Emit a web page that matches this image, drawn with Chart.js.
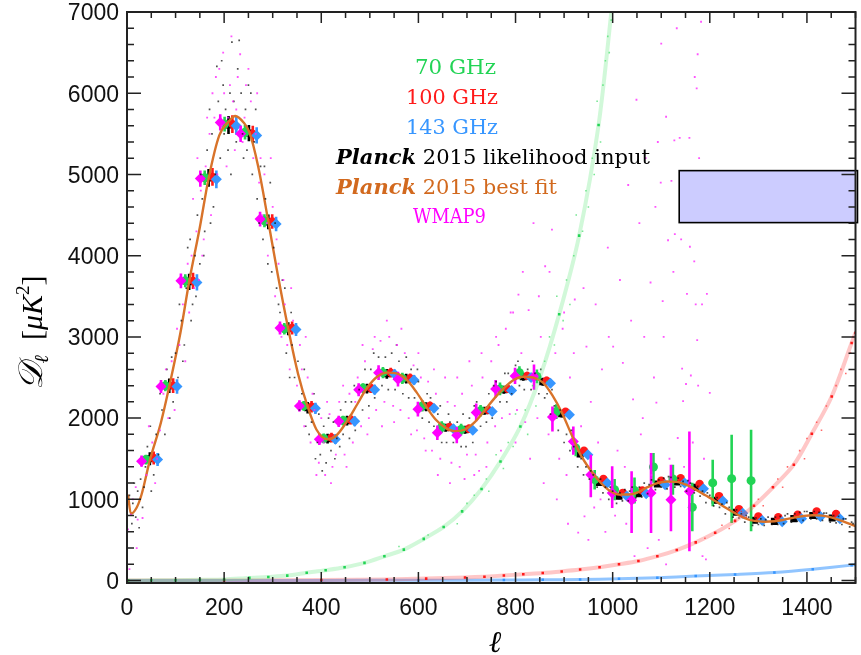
<!DOCTYPE html>
<html>
<head>
<meta charset="utf-8">
<script src="https://cdn.jsdelivr.net/npm/chart.js@4.4.1/dist/chart.umd.min.js"></script>
<style>
html, body { margin: 0; padding: 0; background: #fff; }
#wrap { width: 861px; height: 655px; }
</style>
</head>
<body>
<div id="wrap"><canvas id="spectrumChart" width="861" height="655"></canvas></div>
<script>
// axis ticks
const xTicks = [0, 200, 400, 600, 800, 1000, 1200, 1400];
const yTicks = [0, 1000, 2000, 3000, 4000, 5000, 6000, 7000];

// Planck 2015 best fit
const fitL = [2, 8, 20, 30, 47, 70, 87, 110, 128, 150, 168, 190, 209, 223, 240, 252, 270, 291, 310, 332, 352, 372, 390, 413, 430, 453, 475, 494, 515, 535, 555, 576, 596, 616, 636, 656, 676, 696, 716, 736, 756, 776, 796, 816, 836, 856, 876, 896, 915, 933, 953, 973, 993, 1013, 1033, 1053, 1072, 1092, 1112, 1132, 1151, 1171, 1191, 1211, 1232, 1252, 1272, 1292, 1312, 1333, 1353, 1373, 1393, 1412, 1432, 1452, 1472, 1500];
const fitD = [1058, 824, 900, 1060, 1480, 1950, 2390, 3050, 3680, 4350, 4950, 5480, 5650, 5720, 5640, 5520, 5100, 4420, 3780, 3100, 2550, 2140, 1860, 1740, 1780, 1960, 2180, 2370, 2510, 2560, 2550, 2470, 2320, 2140, 1980, 1880, 1840, 1860, 1950, 2090, 2240, 2370, 2470, 2510, 2500, 2440, 2280, 2060, 1800, 1560, 1370, 1220, 1110, 1060, 1060, 1090, 1150, 1200, 1220, 1215, 1180, 1120, 1050, 980, 900, 830, 770, 735, 725, 730, 750, 775, 795, 805, 800, 775, 735, 670];

// Planck 2015 likelihood input, binned
const planckL = [47, 87, 128, 168, 209, 251, 291, 332, 372, 413, 453, 494, 535, 575, 616, 656, 696, 736, 776, 816, 856, 895, 933, 973, 1013, 1053, 1092, 1132, 1171, 1211, 1252, 1292, 1333, 1373, 1412, 1452];
const planckD = [1500, 2398, 3678, 4957, 5609, 5510, 4416, 3100, 2128, 1747, 1968, 2362, 2546, 2485, 2140, 1882, 1857, 2091, 2349, 2509, 2448, 2054, 1559, 1209, 1037, 1070, 1189, 1214, 1148, 988, 840, 742, 729, 763, 800, 771];
const planckErr = [80, 90, 100, 110, 110, 100, 90, 80, 70, 60, 60, 60, 60, 60, 55, 50, 50, 50, 50, 50, 50, 45, 40, 40, 35, 35, 35, 35, 35, 35, 30, 30, 30, 30, 30, 30];

// 100 GHz and 143 GHz binned
const redL = [55, 95, 136, 176, 217, 259, 299, 340, 380, 421, 461, 502, 543, 583, 624, 664, 704, 744, 784, 824, 864, 903, 941, 981, 1021, 1061, 1100, 1140, 1179, 1219, 1260, 1300, 1341, 1381, 1420, 1460];
const redD = [1510, 2400, 3690, 4970, 5620, 5500, 4420, 3110, 2140, 1760, 1980, 2370, 2560, 2490, 2150, 1890, 1870, 2100, 2360, 2520, 2460, 2080, 1600, 1250, 1080, 1110, 1230, 1260, 1190, 1040, 880, 790, 780, 810, 850, 820];
const blueL = [63, 103, 144, 184, 225, 267, 307, 348, 388, 429, 469, 510, 551, 591, 632, 672, 712, 752, 792, 832, 872, 911, 949, 989, 1029, 1069, 1108, 1148, 1187, 1227, 1268, 1308, 1349, 1389, 1428, 1468];
const blueD = [1490, 2390, 3670, 4940, 5600, 5480, 4390, 3090, 2120, 1740, 1960, 2350, 2540, 2470, 2120, 1870, 1850, 2080, 2340, 2500, 2430, 2040, 1550, 1200, 1040, 1070, 1180, 1200, 1130, 980, 830, 740, 725, 760, 790, 760];

// 70 GHz binned
const greenL = [39, 79, 120, 160, 201, 243, 283, 324, 364, 405, 445, 486, 527, 567, 608, 648, 688, 728, 768, 808, 844, 884, 924, 963, 1004, 1045, 1084, 1124, 1164, 1206, 1245, 1285];
const greenD = [1490, 2400, 3690, 4960, 5620, 5520, 4430, 3100, 2150, 1750, 1970, 2370, 2560, 2490, 2150, 1890, 1860, 2090, 2360, 2560, 2513, 2082, 1632, 1242, 1119, 1110, 1398, 1251, 902, 1202, 1255, 1230];
const greenLo = [1430, 2330, 3610, 4870, 5530, 5430, 4350, 3030, 2090, 1690, 1910, 2310, 2490, 2420, 2080, 1820, 1790, 2020, 2280, 2480, 2430, 1990, 1530, 1120, 990, 950, 1205, 1058, 606, 914, 710, 606];
const greenHi = [1550, 2470, 3770, 5050, 5710, 5610, 4510, 3170, 2210, 1810, 2030, 2430, 2630, 2560, 2220, 1960, 1930, 2160, 2440, 2640, 2600, 2170, 1730, 1360, 1250, 1270, 1570, 1427, 1205, 1488, 1796, 1857];

// WMAP9 binned
const wmapL = [30, 70, 111, 151, 192, 234, 274, 315, 355, 396, 436, 477, 518, 558, 599, 639, 679, 719, 759, 799, 838, 876, 919, 955, 999, 1039, 1079, 1120, 1158];
const wmapD = [1470, 2390, 3690, 4950, 5640, 5500, 4450, 3110, 2150, 1740, 1960, 2350, 2560, 2480, 2110, 1820, 1790, 2070, 2360, 2520, 2510, 2013, 1713, 1304, 1078, 988, 1078, 996, 1098];
const wmapLo = [1400, 2310, 3600, 4850, 5540, 5400, 4360, 3030, 2080, 1670, 1890, 2270, 2470, 2390, 2020, 1730, 1690, 1960, 2250, 2420, 2350, 1836, 1550, 1025, 894, 587, 587, 606, 360];
const wmapHi = [1540, 2470, 3780, 5050, 5740, 5600, 4540, 3190, 2220, 1810, 2030, 2430, 2650, 2570, 2200, 1910, 1890, 2180, 2470, 2620, 2660, 2144, 1898, 1550, 1406, 1345, 1570, 1427, 1836];

// noise levels, binned
const greenNoiseL = [2, 50, 100, 150, 200, 252, 291, 330, 370, 409, 448, 489, 530, 570, 611, 652, 690, 730, 769, 810, 850, 890, 931, 971, 1000];
const greenNoiseD = [0, 3, 5, 9, 14, 33, 45, 61, 95, 127, 164, 218, 299, 381, 513, 660, 852, 1128, 1467, 1898, 2500, 3280, 4247, 5609, 7150];
const redNoiseL = [2, 200, 400, 535, 616, 696, 736, 776, 816, 856, 895, 933, 973, 1013, 1053, 1092, 1132, 1171, 1211, 1252, 1291, 1330, 1373, 1410, 1451, 1492, 1500];
const redNoiseD = [0, 2, 6, 14, 24, 38, 48, 62, 78, 92, 112, 135, 165, 200, 240, 300, 376, 470, 588, 735, 922, 1148, 1427, 1808, 2267, 2924, 3050];
const blueNoiseL = [2, 400, 600, 776, 856, 933, 1013, 1092, 1171, 1252, 1333, 1412, 1492, 1500];
const blueNoiseD = [0, 2, 4, 6, 9, 12, 22, 35, 55, 75, 100, 140, 190, 197];

// unbinned points [l, D]
const greenDots = [[560, 420], [620, 560], [680, 700], [700, 950], [715, 1050], [740, 1250], [745, 1100], [760, 1550], [775, 1380], [785, 1700], [795, 1650], [800, 2050], [820, 2100], [825, 1800], [835, 2400], [842, 2150], [860, 2700], [865, 2450], [870, 3000], [880, 2900], [885, 3500], [898, 3200], [905, 3700], [912, 3400], [920, 4000], [925, 4500], [938, 4300], [945, 4800], [950, 4600], [958, 5200], [962, 5000], [968, 5900], [975, 5400], [980, 6100], [985, 6400], [990, 6700], [993, 6500], [997, 6900]];
const redDots = [[1190, 520], [1225, 680], [1240, 640], [1265, 850], [1275, 780], [1300, 1000], [1310, 920], [1340, 1250], [1350, 1150], [1360, 1400], [1385, 1600], [1395, 1500], [1400, 1750], [1420, 1950], [1430, 1850], [1440, 2150], [1460, 2400], [1470, 2600], [1480, 2550], [1490, 2800], [1495, 3000]];
const blackDots = [[5, 1050], [10, 700], [12, 950], [18, 780], [22, 1100], [28, 1250], [32, 900], [38, 1400], [42, 1650], [55, 1300], [60, 1800], [65, 1550], [72, 2100], [78, 1800], [82, 2600], [95, 2200], [100, 2800], [105, 2500], [112, 3200], [118, 2900], [122, 3600], [125, 4100], [135, 3400], [140, 4000], [145, 4500], [150, 3900], [155, 4700], [160, 4300], [165, 5300], [175, 5500], [178, 4600], [185, 6330], [188, 5900], [192, 5200], [198, 6100], [203, 5800], [208, 5300], [216, 6630], [220, 5900], [225, 5400], [231, 6650], [235, 6000], [240, 5200], [244, 5800], [250, 6100], [258, 5000], [262, 5400], [268, 4700], [275, 5100], [280, 4200], [285, 4700], [298, 3800], [302, 4100], [308, 3600], [315, 3300], [320, 3700], [328, 2800], [340, 2900], [345, 2500], [352, 2700], [360, 2300], [368, 1900], [380, 1950], [385, 2300], [392, 1700], [398, 1550], [405, 1900], [410, 1450], [420, 1600], [425, 1950], [432, 1750], [440, 2100], [445, 1800], [462, 2200], [470, 1850], [478, 2350], [485, 2100], [502, 2600], [510, 2250], [518, 2750], [525, 2400], [545, 2800], [552, 2350], [560, 2700], [568, 2300], [585, 2600], [592, 2250], [600, 2450], [608, 2000], [625, 2250], [632, 1900], [640, 2050], [648, 1700], [665, 1950], [672, 1700], [680, 1950], [688, 1650], [705, 2000], [712, 1700], [720, 2200], [728, 1900], [745, 2300], [752, 2000], [760, 2450], [768, 2200], [785, 2550], [792, 2300], [800, 2650], [808, 2400], [825, 2600], [832, 2350], [840, 2550], [848, 2300], [865, 2300], [872, 2050], [880, 2150], [888, 1850], [905, 1800], [912, 1600], [920, 1650], [928, 1400], [945, 1400], [952, 1250], [960, 1300], [968, 1150], [985, 1150], [992, 1000], [1000, 1100], [1008, 950], [1025, 1120], [1032, 980], [1040, 1150], [1048, 1020], [1065, 1200], [1072, 1070], [1080, 1240], [1088, 1120], [1105, 1260], [1112, 1130], [1120, 1270], [1128, 1150], [1145, 1220], [1152, 1100], [1160, 1200], [1168, 1080], [1185, 1100], [1192, 960], [1200, 1050], [1208, 920], [1225, 940], [1232, 820], [1240, 900], [1248, 780], [1265, 820], [1272, 720], [1280, 780], [1288, 680], [1305, 760], [1312, 680], [1320, 780], [1328, 690], [1345, 790], [1352, 700], [1360, 820], [1368, 720], [1385, 840], [1392, 740], [1400, 850], [1408, 760], [1425, 840], [1432, 740], [1440, 830], [1448, 720], [1465, 790], [1472, 690], [1480, 760], [1488, 660], [1495, 700],
    [15, 1200], [25, 650], [35, 1150], [48, 1900], [50, 1100], [68, 2300], [88, 2000], [92, 2750], [108, 3400], [115, 2700], [130, 4200], [132, 3200], [142, 3500], [152, 5000], [158, 4000], [170, 5800], [172, 4400], [182, 5000], [195, 6400], [200, 5500], [212, 6000], [214, 5000], [228, 6300], [238, 5500], [247, 5300], [255, 6000], [265, 5800], [272, 4400], [283, 5100], [290, 3900], [295, 4900], [305, 4400], [312, 3400], [325, 3600], [335, 2500], [338, 3300], [355, 2100], [365, 2600], [375, 1800], [388, 1500], [395, 2050], [402, 1350], [415, 2000], [428, 1500], [438, 1650], [450, 2200], [458, 1750], [468, 2400], [490, 2600], [498, 2150], [508, 2800], [532, 2750], [538, 2350], [555, 2900], [575, 2750], [580, 2250], [598, 2600], [618, 2300], [622, 1950], [645, 2150], [658, 1700], [662, 2050], [692, 2050], [698, 1650], [715, 2150], [740, 1950], [755, 2400], [778, 2550], [782, 2200], [805, 2700], [818, 2350], [835, 2700], [852, 2600], [860, 2250], [875, 2350], [892, 2100], [900, 1700], [915, 1850], [935, 1500], [940, 1300], [955, 1350], [975, 1250], [980, 1080], [995, 1150], [1015, 1080], [1020, 980], [1035, 1100], [1055, 1150], [1060, 1030], [1075, 1180], [1095, 1240], [1100, 1150], [1115, 1280], [1135, 1260], [1140, 1160], [1155, 1230], [1175, 1160], [1180, 1040], [1195, 1080], [1215, 1020], [1220, 900], [1235, 960], [1255, 870], [1260, 770], [1275, 800], [1295, 770], [1300, 690], [1315, 750], [1335, 780], [1340, 690], [1355, 800], [1375, 820], [1380, 730], [1395, 850], [1415, 850], [1420, 760], [1435, 830], [1455, 800], [1460, 710], [1475, 760], [1492, 720]];
const wmapDots = [[2, 630], [5, 140], [8, 810], [12, 1000], [18, 1150], [22, 750], [32, 770], [40, 1300], [52, 1700], [58, 1200], [68, 1850], [75, 2300], [85, 2000], [92, 2700], [98, 2100], [108, 2900], [115, 3400], [120, 2700], [128, 3300], [133, 4000], [138, 3600], [143, 4300], [148, 3700], [152, 4800], [158, 4200], [162, 5100], [170, 5500], [173, 4500], [180, 5700], [183, 6200], [190, 6300], [195, 5600], [200, 6000], [205, 5100], [212, 6100], [218, 5900], [222, 5300], [228, 6200], [233, 6480], [238, 5400], [245, 6100], [255, 5900], [260, 5200], [265, 5500], [272, 4900], [278, 4500], [283, 5000], [290, 4000], [300, 4600], [305, 3500], [312, 3900], [318, 3000], [325, 3400], [335, 2600], [342, 3200], [350, 2400], [356, 2900], [365, 1900], [372, 2500], [378, 1700], [386, 2100], [395, 1450], [400, 2000], [408, 1300], [417, 2050], [423, 1400], [430, 1550], [437, 2200], [448, 1550], [458, 2300], [465, 1700], [475, 2500], [482, 1900], [490, 2700], [498, 2000], [506, 2850], [513, 2100], [522, 2950], [530, 2200], [540, 3000], [548, 2150], [556, 2900], [563, 2100], [572, 2800], [580, 2000], [590, 2650], [597, 1850], [605, 2500], [612, 1750], [620, 2450], [628, 1600], [636, 2300], [645, 1500], [660, 2200], [668, 1450], [675, 2150], [685, 1400], [690, 2300], [700, 1550], [710, 2400], [718, 1550], [725, 1350], [732, 2500], [742, 1700], [750, 2700], [758, 1900], [765, 2900], [772, 2000], [780, 3100], [788, 2050], [795, 3300], [803, 2100], [806, 3520], [812, 2800], [820, 1950], [827, 3330], [837, 4400], [845, 2000], [852, 3000], [861, 3870], [868, 1800], [875, 4320], [882, 2800], [890, 1500], [897, 3100], [905, 1300], [912, 2500], [922, 3460], [929, 590], [935, 1900], [942, 790], [946, 2880], [955, 2200], [962, 900], [970, 1700], [978, 2600], [985, 600], [992, 3000], [1001, 2880], [1010, 1600], [1021, 2680], [1028, 700], [1032, 4870], [1042, 2230], [1049, 5920], [1058, 1800], [1065, 3000], [1072, 400], [1078, 3670], [1085, 2500], [1090, 2190], [1093, 5400], [1099, 4900], [1100, 6610], [1103, 3440], [1110, 5710], [1110, 200], [1114, 4190], [1121, 4920], [1127, 5420], [1128, 4265], [1134, 1755], [1138, 5450], [1141, 4200], [1143, 2610], [1145, 2210], [1151, 2420], [1153, 3530], [1158, 5450], [1159, 4110], [1161, 2525], [1168, 3930], [1169, 6200], [1171, 3400], [1173, 6060], [1174, 2960], [1175, 6480], [1176, 2400], [1182, 6880], [1184, 3400], [1185, 300], [1192, 260], [1194, 3530], [1200, 2310],
    [20, 400], [45, 1900], [62, 1500], [80, 2600], [103, 3100], [125, 3900], [136, 4700], [145, 5200], [155, 4000], [165, 5700], [176, 6000], [186, 5000], [198, 6500], [208, 5700], [215, 6700], [225, 5800], [242, 5700], [250, 6300], [268, 6000], [275, 5200], [288, 4400], [296, 5200], [308, 4200], [322, 3700], [330, 2900], [338, 3600], [360, 2600], [368, 3000], [382, 2300], [390, 1300], [405, 1700], [412, 2200], [420, 1200], [445, 2400], [452, 1400], [470, 2200], [485, 2900], [495, 1800], [510, 3000], [525, 1900], [535, 3200], [550, 1950], [565, 3100], [585, 1800], [600, 2800], [615, 1600], [632, 2600], [640, 1300], [655, 2500], [665, 1200], [680, 2500], [695, 1250], [705, 2700], [715, 1300], [730, 2800], [740, 1400], [760, 3000], [770, 1600], [790, 3300], [800, 1700], [815, 3800], [830, 1500], [848, 3500], [858, 1200], [870, 3800], [885, 1000], [900, 3300], [908, 700], [920, 2800], [940, 3600], [950, 500], [965, 3400], [975, 1000], [990, 4100], [1005, 800], [1015, 3700], [1025, 1400], [1038, 3200], [1045, 300], [1055, 4400], [1062, 2000], [1068, 5200], [1080, 1300], [1088, 4600], [1095, 500], [1105, 3000], [1117, 1500], [1125, 3800], [1132, 6800], [1147, 1400], [1155, 4800], [1165, 1700], [1178, 5200], [1188, 1500], [1196, 4500]];

// shaded box (l range, D range)
const boxL = [1137, 1500];
const boxD = [4407, 5047];

const GREEN = '#22d455';
const RED = '#ff1a1a';
const BLUE = '#3796ff';
const ORANGE = '#d8732a';
const MAGENTA = '#ff00ff';

function pairs(xs, ys) {
    return xs.map((x, i) => ({ x: x, y: ys[i] }));
}

function dots(list) {
    return list.map(p => ({ x: p[0], y: p[1] }));
}

function noiseLine(xs, ys, band, pt, width) {
    return {
        type: 'line',
        data: pairs(xs, ys),
        borderColor: band,
        borderWidth: width,
        tension: 0.3,
        pointRadius: 1.8,
        pointStyle: 'rect',
        pointBackgroundColor: pt,
        pointBorderWidth: 0
    };
}

function cloud(list, color, r) {
    return {
        type: 'scatter',
        data: dots(list),
        pointRadius: r,
        pointStyle: 'rect',
        pointBackgroundColor: color,
        pointBorderWidth: 0
    };
}

function binned(xs, ys, lo, hi, color, style, r) {
    return {
        type: 'scatter',
        data: pairs(xs, ys),
        errLo: lo,
        errHi: hi,
        barColor: color,
        pointRadius: r,
        pointStyle: style,
        pointBackgroundColor: color,
        pointBorderWidth: 0
    };
}

const planckLo = planckD.map((d, i) => d - planckErr[i]);
const planckHi = planckD.map((d, i) => d + planckErr[i]);
const redLo = redD.map((d, i) => d - planckErr[i]);
const redHi = redD.map((d, i) => d + planckErr[i]);
const blueLo = blueD.map((d, i) => d - planckErr[i]);
const blueHi = blueD.map((d, i) => d + planckErr[i]);

// vertical error bars under each binned dataset
const errorBarPlugin = {
    id: 'errorBars',
    beforeDatasetDraw(chart, args) {
        const ds = chart.data.datasets[args.index];
        if (!ds.errLo) return;
        const { ctx, chartArea: a, scales: { x, y } } = chart;
        ctx.save();
        ctx.beginPath();
        ctx.rect(a.left, a.top, a.right - a.left, a.bottom - a.top);
        ctx.clip();
        ctx.strokeStyle = ds.barColor;
        ctx.lineWidth = 2.6;
        ds.data.forEach((p, i) => {
            const px = x.getPixelForValue(p.x);
            ctx.beginPath();
            ctx.moveTo(px, y.getPixelForValue(ds.errLo[i]));
            ctx.lineTo(px, y.getPixelForValue(ds.errHi[i]));
            ctx.stroke();
        });
        ctx.restore();
    }
};

// frame with inward ticks, shaded box, labels
const decorPlugin = {
    id: 'decor',
    afterDatasetsDraw(chart) {
        const { ctx, chartArea: a, scales: { x, y } } = chart;
        ctx.save();

        // box
        const bx0 = x.getPixelForValue(boxL[0]);
        const bx1 = x.getPixelForValue(boxL[1]);
        const by0 = y.getPixelForValue(boxD[1]);
        const by1 = y.getPixelForValue(boxD[0]);
        ctx.fillStyle = '#ccccff';
        ctx.fillRect(bx0, by0, bx1 - bx0, by1 - by0);
        ctx.strokeStyle = '#000';
        ctx.lineWidth = 1.6;
        ctx.strokeRect(bx0, by0, bx1 - bx0 + 2, by1 - by0);

        // frame
        ctx.strokeStyle = '#222';
        ctx.lineWidth = 2;
        ctx.strokeRect(a.left, a.top, a.right - a.left, a.bottom - a.top);

        ctx.lineWidth = 1.5;
        ctx.beginPath();
        for (let v = 0; v <= 1500; v += 50) {
            const px = x.getPixelForValue(v);
            const len = v % 200 === 0 ? 11 : 6;
            ctx.moveTo(px, a.bottom); ctx.lineTo(px, a.bottom - len);
            ctx.moveTo(px, a.top); ctx.lineTo(px, a.top + len);
        }
        for (let v = 0; v <= 7000; v += 200) {
            const py = y.getPixelForValue(v);
            const len = v % 1000 === 0 ? 14 : 7;
            ctx.moveTo(a.left, py); ctx.lineTo(a.left + len, py);
            ctx.moveTo(a.right, py); ctx.lineTo(a.right - len, py);
        }
        ctx.stroke();

        // legend text
        const serif = '"DejaVu Serif", serif';
        const items = [
            { parts: [['70 GHz', '']], color: GREEN, left: 415, right: 496, y: 74 },
            { parts: [['100 GHz', '']], color: RED, left: 406, right: 498, y: 104 },
            { parts: [['143 GHz', '']], color: BLUE, left: 406, right: 498, y: 134 },
            { parts: [['Planck', 'bold italic '], [' 2015 likelihood input', '']], color: '#000', left: 336, right: 650, y: 164 },
            { parts: [['Planck', 'bold italic '], [' 2015 best fit', '']], color: '#d2691e', left: 336, right: 557, y: 194 },
            { parts: [['WMAP9', '']], color: MAGENTA, left: 413, right: 486, y: 223 }
        ];
        ctx.textBaseline = 'alphabetic';
        ctx.textAlign = 'left';
        items.forEach(it => {
            let total = 0;
            it.parts.forEach(p => {
                ctx.font = p[1] + '21px ' + serif;
                total += ctx.measureText(p[0]).width;
            });
            const sx = (it.right - it.left) / total;
            ctx.save();
            ctx.translate(it.left, it.y);
            ctx.scale(sx, 1);
            ctx.fillStyle = it.color;
            let cx = 0;
            it.parts.forEach(p => {
                ctx.font = p[1] + '21px ' + serif;
                ctx.fillText(p[0], cx, 0);
                cx += ctx.measureText(p[0]).width;
            });
            ctx.restore();
        });

        // x title
        ctx.fillStyle = '#000';
        ctx.textAlign = 'center';
        ctx.font = 'italic 30px ' + serif;
        ctx.fillText('\u2113', 495, 652);

        // y title, rotated
        ctx.save();
        ctx.translate(42, 333);
        ctx.rotate(-Math.PI / 2);
        ctx.textAlign = 'left';
        const tparts = [
            ['\uD835\uDC9F', 'italic 34px ' + serif, 0],
            ['\u2113', 'italic 20px ' + serif, 6],
            ['  [', '30px "Liberation Serif", serif', 0],
            ['\u03BCK', 'italic 30px "Liberation Serif", serif', 0],
            ['2', '19px "Liberation Serif", serif', -13],
            [']', '30px "Liberation Serif", serif', 0]
        ];
        let tw = 0;
        tparts.forEach(p => { ctx.font = p[1]; tw += ctx.measureText(p[0]).width; });
        let tx = -tw / 2;
        tparts.forEach(p => {
            ctx.font = p[1];
            ctx.fillText(p[0], tx, p[2]);
            tx += ctx.measureText(p[0]).width;
        });
        ctx.restore();

        ctx.restore();
    }
};

const ctx = document.getElementById('spectrumChart').getContext('2d');

new Chart(ctx, {
    type: 'scatter',
    data: {
        datasets: [
            noiseLine(greenNoiseL, greenNoiseD, 'rgba(90, 230, 120, 0.28)', GREEN, 4),
            noiseLine(redNoiseL, redNoiseD, 'rgba(255, 70, 70, 0.3)', RED, 4),
            noiseLine(blueNoiseL, blueNoiseD, 'rgba(55, 150, 255, 0.55)', BLUE, 3),
            cloud(greenDots, 'rgba(60, 220, 100, 0.7)', 1.1),
            cloud(redDots, 'rgba(255, 40, 40, 0.7)', 1.1),
            cloud(wmapDots, 'rgba(255, 40, 255, 0.8)', 1.3),
            cloud(blackDots, 'rgba(20, 20, 20, 0.75)', 1.2),
            {
                type: 'line',
                data: pairs(fitL, fitD),
                borderColor: ORANGE,
                borderWidth: 2.4,
                cubicInterpolationMode: 'monotone',
                pointRadius: 0
            },
            binned(wmapL, wmapD, wmapLo, wmapHi, MAGENTA, 'rectRot', 5.5),
            binned(greenL, greenD, greenLo, greenHi, GREEN, 'circle', 4.5),
            binned(blueL, blueD, blueLo, blueHi, BLUE, 'rectRot', 5.5),
            binned(redL, redD, redLo, redHi, RED, 'circle', 4.2),
            binned(planckL, planckD, planckLo, planckHi, '#000', 'rect', 5)
        ]
    },
    options: {
        responsive: false,
        animation: false,
        devicePixelRatio: 1,
        events: [],
        layout: { padding: { left: 0, right: 1, top: 12, bottom: 0 } },
        plugins: {
            legend: { display: false },
            tooltip: { enabled: false }
        },
        scales: {
            x: {
                type: 'linear',
                min: 0,
                max: 1500,
                grid: { display: false, drawTicks: false },
                border: { display: false },
                afterBuildTicks: scale => { scale.ticks = xTicks.map(v => ({ value: v })); },
                afterFit: scale => {
                    scale.height = 72;
                    scale.paddingLeft = 0;
                    scale.paddingRight = 0;
                },
                ticks: {
                    padding: 12,
                    color: '#111',
                    font: { family: '"Liberation Sans", Arial, sans-serif', size: 23 },
                    callback: v => String(v)
                }
            },
            y: {
                type: 'linear',
                min: -30,
                max: 7000,
                grid: { display: false, drawTicks: false },
                border: { display: false },
                afterBuildTicks: scale => { scale.ticks = yTicks.map(v => ({ value: v })); },
                afterFit: scale => {
                    scale.width = 127;
                    scale.paddingTop = 0;
                    scale.paddingBottom = 0;
                },
                ticks: {
                    padding: 8,
                    labelOffset: 2,
                    color: '#111',
                    font: { family: '"Liberation Sans", Arial, sans-serif', size: 23 },
                    callback: v => String(v)
                }
            }
        }
    },
    plugins: [errorBarPlugin, decorPlugin]
});
</script>
</body>
</html>
